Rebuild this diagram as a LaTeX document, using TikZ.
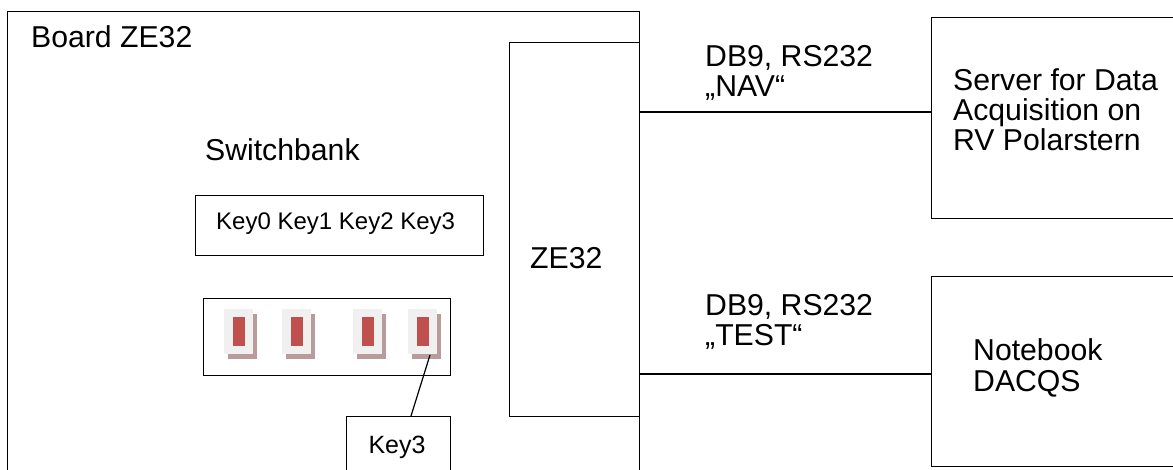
\documentclass[tikz,border=0pt]{standalone}
\usepackage{fontspec}
\setmainfont{Liberation Sans}
\usepackage{tikz}
\usetikzlibrary{positioning}
\definecolor{swred}{HTML}{C0504D}
\definecolor{swshadow}{HTML}{B89C9C}
\definecolor{swface}{HTML}{F0F0F0}
\tikzset{
  box/.style={draw, line width=1.2pt, rectangle, inner sep=0pt, anchor=north west},
  lbl/.style={inner sep=0pt, anchor=west, align=left, font=\fontsize{30.2}{30.2}\selectfont},
  small/.style={font=\fontsize{24}{28}\selectfont},
  wire/.style={line width=1.2pt}
}

\begin{document}
\begin{tikzpicture}[x=1pt, y=-1pt]
		\clip (0,0) rectangle (1173,470);
		\fill[white] (0,0) rectangle (1173,470);
		% boxes
		\node[box, minimum width=632pt, minimum height=500pt] (board) at (7,11) {};
		\node[box, minimum width=130pt, minimum height=374pt] (ze) at (509,42) {};
		\node[box, minimum width=300pt, minimum height=201pt] (server) at (931,17) {};
		\node[box, minimum width=300pt, minimum height=190pt] (notebook) at (931,276) {};
		\node[box, minimum width=288pt, minimum height=60pt] (keys) at (195,195) {};
		\node[box, minimum width=247pt, minimum height=77pt] (bank) at (203,298) {};
		\node[box, minimum width=104pt, minimum height=80pt] (callout) at (346,416) {};
		% texts
		\node[lbl] (boardtxt) at (31,37) {Board ZE32};
		\node[lbl] (banktxt) at (205,150) {Switchbank};
		\node[lbl, small] (keytxt) at (216,224) {Key0 Key1 Key2 Key3};
		\node[lbl] (zetxt) at (530,258) {ZE32};
		\node[lbl] (navtxt) at (705,73) {DB9, RS232\\„NAV“};
		\node[lbl] (testtxt) at (705,322) {DB9, RS232\\„TEST“};
		\node[lbl] (servertxt) at (953,110) {Server for Data\\Acquisition on\\RV Polarstern};
		\node[lbl] (nbtxt) at (973,368) {Notebook\\DACQS};
		\node[small, inner sep=0pt] (calltxt) at (397,447) {\fontsize{25}{29}\selectfont Key3};
		% switches
		\foreach \x [count=\i] in {224,282,353,408} {
			\fill[swshadow] (\x+4,314) rectangle +(29,45);
			\fill[swface] (\x,309) rectangle +(29,45);
			\fill[swred] (\x+9,317) rectangle +(12,29);
			\coordinate (sw\i) at (\x+22,355);
		}
		% connectors
		\draw[wire] (ze.east |- 0,112) -- (server.west |- 0,112);
		\draw[wire] (ze.east |- 0,374) -- (notebook.west |- 0,374);
		\draw[wire] (sw4) -- (callout.north -| 411,0);
	\end{tikzpicture}
\end{document}
